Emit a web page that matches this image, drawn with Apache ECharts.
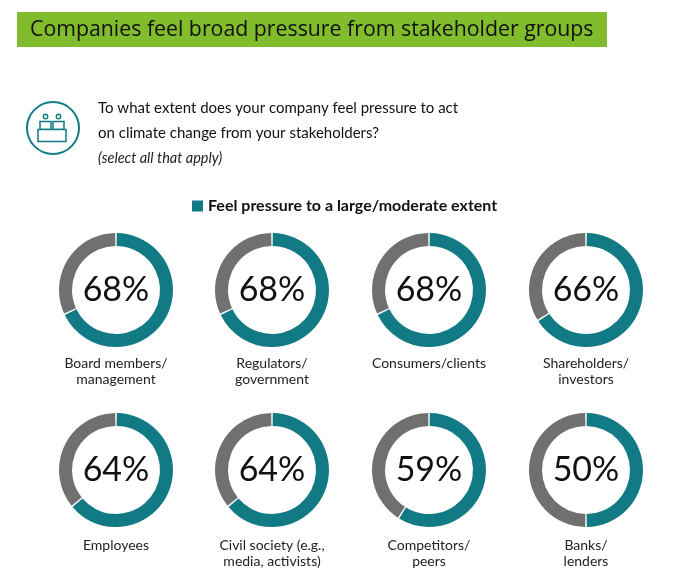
<!DOCTYPE html>
<html>
<head>
<meta charset="utf-8">
<script src="https://cdn.jsdelivr.net/npm/echarts@6/dist/echarts.min.js"></script>
<style>
  html, body { margin: 0; padding: 0; background: #fff; }
  #chart { width: 680px; height: 577px; }
</style>
</head>
<body>
<div id="chart"></div>
<script>
const categories = [
  'Board members/\nmanagement', 'Regulators/\ngovernment', 'Consumers/clients', 'Shareholders/\ninvestors',
  'Employees', 'Civil society (e.g.,\nmedia, activists)', 'Competitors/\npeers', 'Banks/\nlenders',
];
const pressure = [68, 68, 68, 66, 64, 64, 59, 50];
const legendName = 'Feel pressure to a large/moderate extent';
const otherName = 'Other';

const TEAL = '#117a84';
const GREY = '#707070';
const FONT = 'Lato, "Open Sans", sans-serif';

const colX = [116, 272, 429, 586];
const rowY = [290, 470];
const labelY = [355, 537];

const chart = echarts.init(document.getElementById('chart'));

const series = pressure.map((v, i) => ({
  type: 'pie',
  name: categories[i],
  center: [colX[i % 4], rowY[Math.floor(i / 4)]],
  radius: [44, 57],
  startAngle: 90,
  clockwise: true,
  padAngle: 1.6,
  silent: true,
  avoidLabelOverlap: false,
  labelLine: { show: false },
  emphasis: { disabled: true },
  data: [
    {
      name: legendName,
      value: v,
      itemStyle: { color: TEAL },
      label: {
        show: true,
        position: 'center',
        formatter: '{c}%',
        fontFamily: FONT,
        fontSize: 34,
        color: '#111',
      },
    },
    {
      name: otherName,
      value: 100 - v,
      itemStyle: { color: GREY },
      label: { show: false },
    },
  ],
}));

const labelGraphics = categories.map((c, i) => ({
  type: 'text',
  x: colX[i % 4],
  y: labelY[Math.floor(i / 4)],
  style: {
    text: c,
    textAlign: 'center',
    textVerticalAlign: 'top',
    font: '14px ' + FONT,
    lineHeight: 16.5,
    fill: '#222',
  },
}));

chart.setOption({
  animation: false,
  legend: {
    data: [legendName],
    left: 187,
    top: 193,
    icon: 'rect',
    itemWidth: 11,
    itemHeight: 11,
    itemGap: 6,
    selectedMode: false,
    textStyle: { fontFamily: FONT, fontSize: 16, fontWeight: 'bold', color: '#111' },
  },
  graphic: [
    { type: 'rect', shape: { x: 17, y: 12, width: 590, height: 35 }, style: { fill: '#80bc2c' } },
    {
      type: 'text', x: 30, y: 30,
      style: { text: 'Companies feel broad pressure from stakeholder groups', font: '21.3px "Open Sans", sans-serif', fill: '#111', textVerticalAlign: 'middle' },
    },
    // icon
    { type: 'circle', shape: { cx: 53, cy: 128, r: 26 }, style: { fill: 'none', stroke: TEAL, lineWidth: 2 } },
    { type: 'circle', shape: { cx: 45.5, cy: 116.5, r: 2.2 }, style: { fill: 'none', stroke: TEAL, lineWidth: 1.4 } },
    { type: 'circle', shape: { cx: 58.5, cy: 116.5, r: 2.2 }, style: { fill: 'none', stroke: TEAL, lineWidth: 1.4 } },
    { type: 'rect', shape: { x: 40, y: 121.5, width: 11, height: 8 }, style: { fill: 'none', stroke: TEAL, lineWidth: 1.5 } },
    { type: 'rect', shape: { x: 53, y: 121.5, width: 11, height: 8 }, style: { fill: 'none', stroke: TEAL, lineWidth: 1.5 } },
    { type: 'rect', shape: { x: 38, y: 129.5, width: 28, height: 12 }, style: { fill: '#fff', stroke: TEAL, lineWidth: 1.5 } },
    {
      type: 'text', x: 98, y: 108,
      style: { text: 'To what extent does your company feel pressure to act', font: '15px ' + FONT, fill: '#111', textVerticalAlign: 'middle' },
    },
    {
      type: 'text', x: 98, y: 133,
      style: { text: 'on climate change from your stakeholders?', font: '15px ' + FONT, fill: '#111', textVerticalAlign: 'middle' },
    },
    {
      type: 'text', x: 98, y: 158,
      style: { text: '(select all that apply)', font: 'italic 14.5px ' + FONT, fill: '#222', textVerticalAlign: 'middle' },
    },
    ...labelGraphics,
  ],
  series,
});
</script>
</body>
</html>
